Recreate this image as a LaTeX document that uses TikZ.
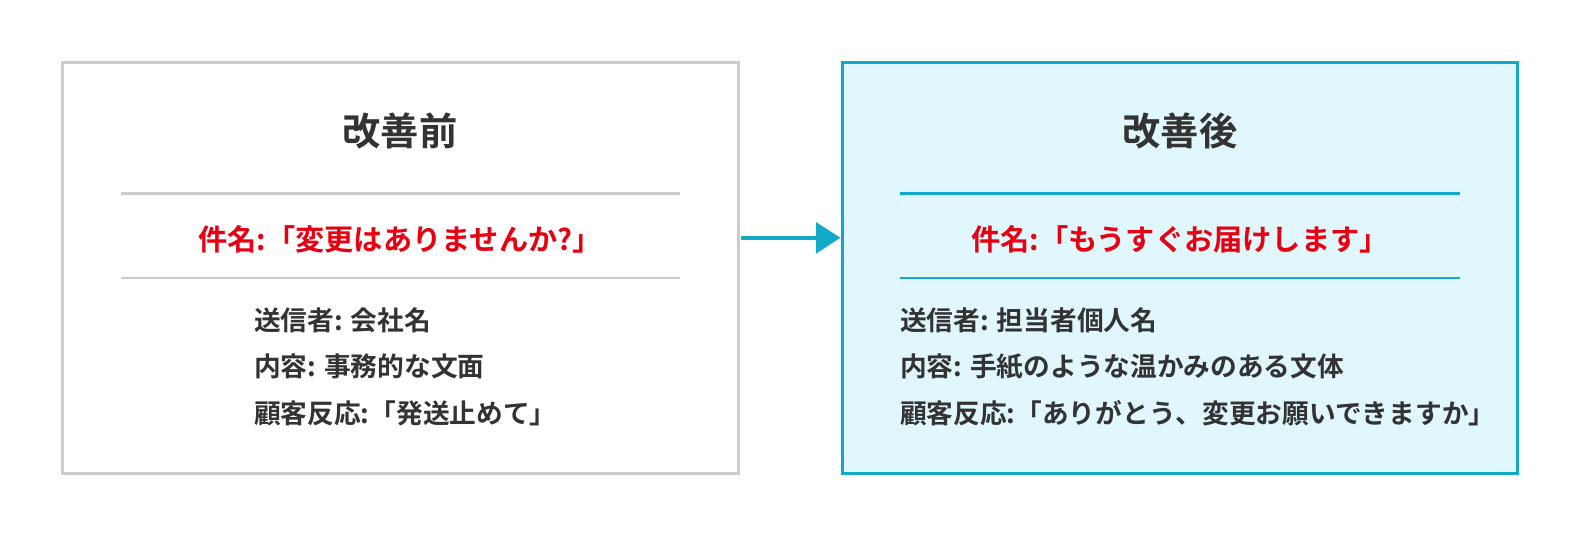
\documentclass[tikz,border=0pt]{standalone}
\usepackage{fontspec}
\newfontfamily\cjk{Noto Sans CJK JP Bold}
\usetikzlibrary{arrows.meta}
\definecolor{teal}{HTML}{12A8C8}
\definecolor{lightb}{HTML}{E0F7FD}
\definecolor{grayb}{HTML}{CCCCCC}
\definecolor{redt}{HTML}{E60012}
\definecolor{txt}{HTML}{333333}
\tikzset{
 box/.style={line width=2.5pt},
 sep/.style={line width=2.5pt},
 title/.style={font=\cjk\fontsize{38}{44}\selectfont, text=txt},
 subj/.style={font=\cjk\fontsize{29}{34}\selectfont, text=redt},
 body/.style={font=\cjk\fontsize{26.5}{30}\selectfont, text=txt, anchor=west, inner sep=0pt},
}
\begin{document}
\begin{tikzpicture}[x=1pt,y=-1pt]
\useasboundingbox (0,0) rectangle (1568,532);
\draw[box, grayb, fill=white] (62,62) rectangle (733,470);
\draw[box, teal, fill=lightb] (836,62) rectangle (1506,470);
\node[title] (t1) at (397,130) {改善前};
\node[title] (t2) at (1171,130) {改善後};
\draw[sep, grayb] (120,192) -- (675,192);
\draw[sep, grayb] (120,276) -- (675,276);
\draw[sep, teal] (893,192) -- (1449,192);
\draw[sep, teal] (893,276) -- (1449,276);
\node[subj] (s1) at (397,238) {件名:「変更はありませんか?」};
\node[subj] (s2) at (1171,238) {件名:「もうすぐお届けします」};
\node[body] (a1) at (252,318) {送信者: 会社名};
\node[body] (a2) at (252,364) {内容: 事務的な文面};
\node[body] (a3) at (252,410) {顧客反応:「発送止めて」};
\node[body] (b1) at (893,318) {送信者: 担当者個人名};
\node[body] (b2) at (893,364) {内容: 手紙のような温かみのある文体};
\node[body] (b3) at (893,410) {顧客反応:「ありがとう、変更お願いできますか」};
\coordinate (p) at (735,236);
\coordinate (q) at (834,236);
\draw[teal, line width=4pt, -{Triangle[length=24pt,width=30pt]}] (p) -- (q);
\end{tikzpicture}
\end{document}
